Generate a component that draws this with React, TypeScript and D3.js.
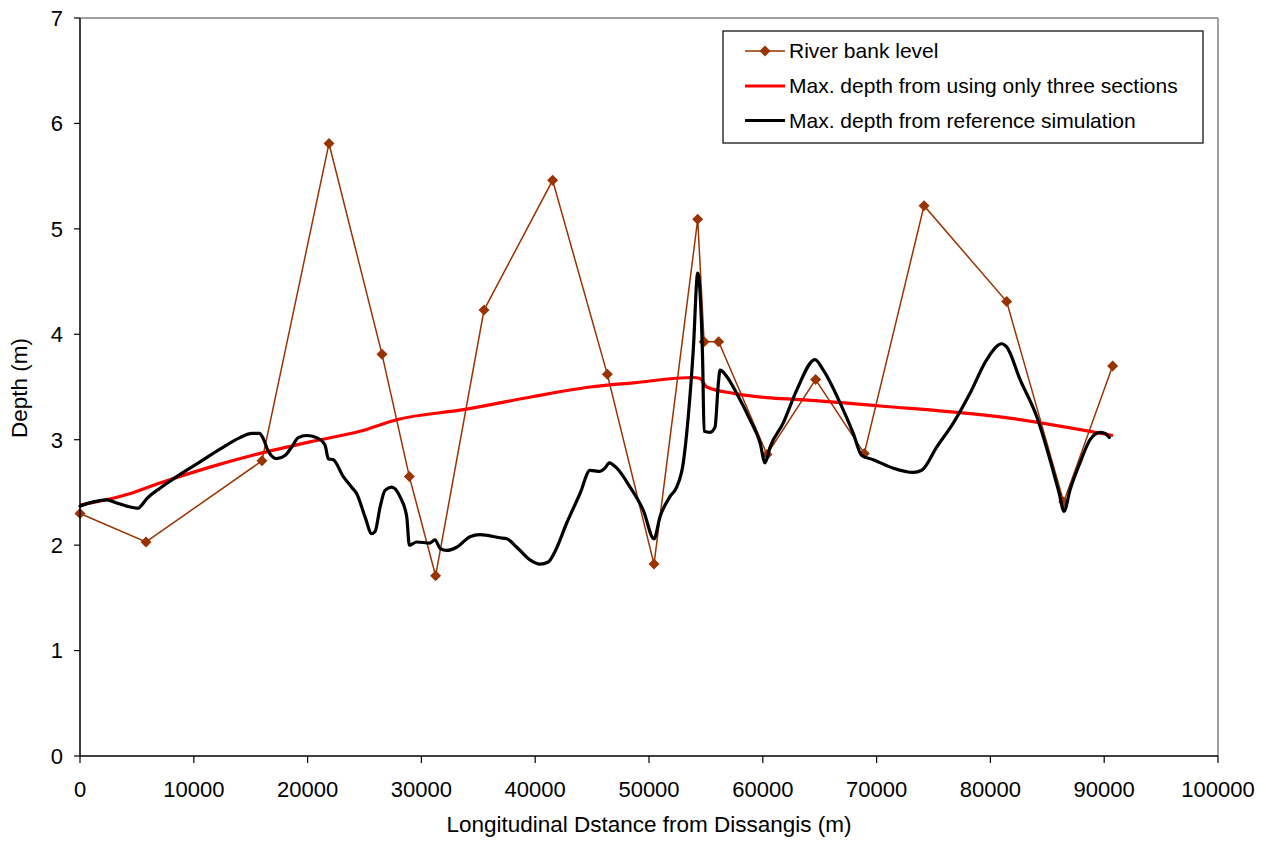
import React from "react";
import * as d3 from "d3";

// River bank level at surveyed sections: distance (m) and level (m)
const bankDistance = [0, 5800, 15990, 21880, 26540, 28940, 31250, 35500, 41530, 46340, 50440, 54280, 54840, 56120, 60370, 64640, 68920, 74170, 81430, 86440, 90740];
const bankLevel = [2.30, 2.03, 2.80, 5.81, 3.81, 2.65, 1.71, 4.23, 5.46, 3.62, 1.82, 5.09, 3.93, 3.93, 2.86, 3.57, 2.87, 5.22, 4.31, 2.41, 3.70];

// Maximum depth computed with only three cross-sections
const threeDistance = [0, 4110, 7030, 11420, 15820, 20220, 24600, 27830, 33980, 39830, 44820, 48630, 53890, 54490, 55070, 57410, 60350, 63270, 70300, 81990, 90770];
const threeDepth = [2.38, 2.48, 2.59, 2.74, 2.87, 2.98, 3.08, 3.19, 3.29, 3.41, 3.50, 3.54, 3.59, 3.58, 3.50, 3.44, 3.40, 3.38, 3.32, 3.20, 3.04];

// Maximum depth from the reference simulation
const refDistance = [0, 1170, 2340, 3230, 4110, 5120, 5420, 5860, 7030, 8500, 10550, 12300, 14060, 15090, 15760, 16110, 16550, 17280, 18010, 18600, 19180, 19920, 20800, 21530, 21820, 22260, 23140, 23870, 24310, 25040, 25630, 25930, 26370, 26800, 27390, 28120, 28710, 28940, 29590, 30750, 31190, 31640, 32230, 33100, 34270, 35150, 36900, 37500, 38380, 39540, 40420, 41150, 41740, 42770, 43940, 44820, 45690, 46130, 46510, 47170, 48340, 49500, 50440, 50970, 51840, 52430, 53010, 53450, 53890, 54280, 54490, 54720, 54840, 55360, 55800, 56090, 56240, 56830, 57700, 58870, 59760, 60200, 60640, 61800, 62980, 64590, 65320, 66790, 67950, 68690, 69710, 71470, 73230, 73960, 75280, 76750, 78210, 79680, 81000, 81430, 82610, 84070, 85240, 86050, 86470, 86990, 87870, 88760, 89630, 90070, 90450];
const refDepth = [2.37, 2.41, 2.43, 2.40, 2.37, 2.35, 2.38, 2.44, 2.54, 2.65, 2.79, 2.91, 3.02, 3.06, 3.06, 3.01, 2.89, 2.82, 2.85, 2.93, 3.02, 3.04, 3.02, 2.95, 2.82, 2.81, 2.65, 2.55, 2.49, 2.27, 2.11, 2.13, 2.36, 2.52, 2.55, 2.46, 2.27, 2.00, 2.03, 2.02, 2.05, 1.97, 1.95, 1.98, 2.08, 2.10, 2.07, 2.06, 1.98, 1.86, 1.82, 1.84, 1.94, 2.21, 2.49, 2.71, 2.70, 2.73, 2.78, 2.73, 2.55, 2.33, 2.06, 2.27, 2.46, 2.55, 2.78, 3.22, 3.85, 4.58, 4.39, 3.72, 3.08, 3.07, 3.12, 3.53, 3.66, 3.60, 3.44, 3.19, 2.97, 2.78, 2.93, 3.16, 3.47, 3.76, 3.66, 3.35, 3.06, 2.85, 2.81, 2.73, 2.69, 2.71, 2.93, 3.16, 3.44, 3.76, 3.91, 3.88, 3.57, 3.22, 2.81, 2.49, 2.32, 2.52, 2.78, 3.00, 3.07, 3.06, 3.02];

const xTicks = [0, 10000, 20000, 30000, 40000, 50000, 60000, 70000, 80000, 90000, 100000];
const yTicks = [0, 1, 2, 3, 4, 5, 6, 7];

const legendLabels = [
  "River bank level",
  "Max. depth from using only three sections",
  "Max. depth from reference simulation",
];

const W = 1266;
const H = 841;
const left = 80;
const right = 1218;
const top = 18;
const bottom = 756;
const font = "Arial, 'Liberation Sans', sans-serif";
const brown = "#993300";

export default function App() {
  const x = d3.scaleLinear().domain([0, 100000]).range([left, right]);
  const y = d3.scaleLinear().domain([0, 7]).range([bottom, top]);

  const toPts = (xs: number[], ys: number[]) => xs.map((d, i) => [d, ys[i]] as [number, number]);

  const straight = d3
    .line<[number, number]>()
    .x((d) => x(d[0]))
    .y((d) => y(d[1]));
  const smooth = d3
    .line<[number, number]>()
    .x((d) => x(d[0]))
    .y((d) => y(d[1]))
    .curve(d3.curveMonotoneX);

  const bankPts = toPts(bankDistance, bankLevel);
  const threePts = toPts(threeDistance, threeDepth);
  const refPts = toPts(refDistance, refDepth);

  const diamond = (cx: number, cy: number, r: number) =>
    `M${cx},${cy - r}L${cx + r},${cy}L${cx},${cy + r}L${cx - r},${cy}Z`;

  const legX = 723;
  const legY = 31;
  const rowY = [51, 86, 120.5];

  return (
    <svg width={W} height={H} style={{ position: "absolute", left: 0, top: 0, background: "#fff" }}>
      <rect x={0} y={0} width={W} height={H} fill="#fff" />

      {/* plot frame: gray top/right, black axes */}
      <line x1={left} x2={right} y1={top} y2={top} stroke="#808080" strokeWidth={1.5} />
      <line x1={right} x2={right} y1={top} y2={bottom} stroke="#808080" strokeWidth={1.5} />

      {/* series */}
      <path d={straight(bankPts) ?? ""} fill="none" stroke={brown} strokeWidth={1.5} />
      {bankPts.map((d, i) => (
        <path key={i} d={diamond(x(d[0]), y(d[1]), 5.5)} fill={brown} />
      ))}
      <path d={smooth(threePts) ?? ""} fill="none" stroke="#ff0000" strokeWidth={3.2} strokeLinejoin="round" />
      <path d={smooth(refPts) ?? ""} fill="none" stroke="#000" strokeWidth={3.2} strokeLinejoin="round" strokeLinecap="round" />

      {/* axes */}
      <line x1={left} x2={left} y1={top} y2={bottom} stroke="#000" strokeWidth={1.5} />
      <line x1={left} x2={right} y1={bottom} y2={bottom} stroke="#000" strokeWidth={1.5} />
      {yTicks.map((t) => (
        <g key={t}>
          <line x1={left - 6} x2={left} y1={y(t)} y2={y(t)} stroke="#000" strokeWidth={1.2} />
          <text x={63} y={y(t)} dy="0.36em" textAnchor="end" fontFamily={font} fontSize={22}>
            {t}
          </text>
        </g>
      ))}
      {xTicks.map((t) => (
        <g key={t}>
          <line x1={x(t)} x2={x(t)} y1={bottom} y2={bottom + 7} stroke="#000" strokeWidth={1.2} />
          <text x={x(t)} y={797} textAnchor="middle" fontFamily={font} fontSize={22}>
            {t}
          </text>
        </g>
      ))}

      {/* axis titles */}
      <text x={649} y={832} textAnchor="middle" fontFamily={font} fontSize={22.5}>
        Longitudinal Dstance from Dissangis (m)
      </text>
      <text
        transform={`translate(27,388) rotate(-90)`}
        textAnchor="middle"
        fontFamily={font}
        fontSize={22.5}
      >
        Depth (m)
      </text>

      {/* legend */}
      <rect x={legX} y={legY} width={480} height={112} fill="#fff" stroke="#000" strokeWidth={1.2} />
      <line x1={745} x2={785} y1={rowY[0]} y2={rowY[0]} stroke={brown} strokeWidth={1.5} />
      <path d={diamond(765, rowY[0], 5.5)} fill={brown} />
      <line x1={745} x2={785} y1={rowY[1]} y2={rowY[1]} stroke="#ff0000" strokeWidth={3.2} />
      <line x1={745} x2={785} y1={rowY[2]} y2={rowY[2]} stroke="#000" strokeWidth={3.2} />
      {legendLabels.map((l, i) => (
        <text key={l} x={789} y={rowY[i]} dy="0.35em" fontFamily={font} fontSize={21}>
          {l}
        </text>
      ))}
    </svg>
  );
}
